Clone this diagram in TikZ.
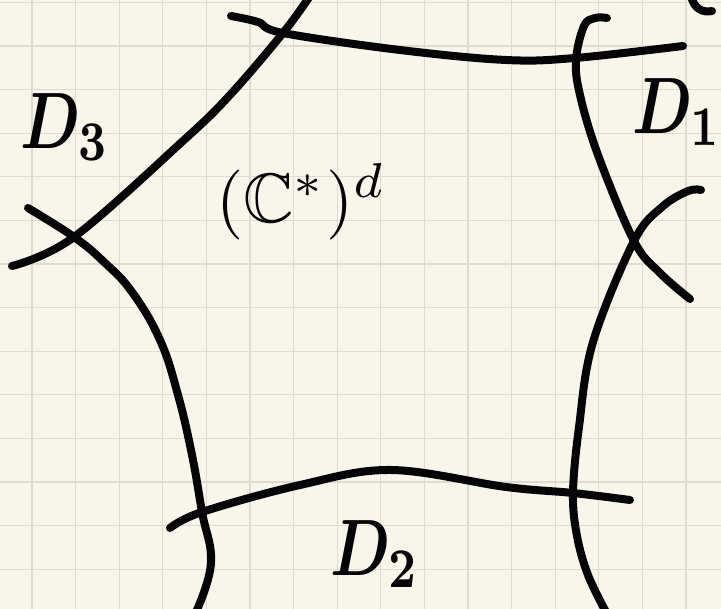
\documentclass[tikz,border=0pt]{standalone}
\usepackage{amssymb}
\usepackage{graphicx}
\usetikzlibrary{positioning,calc,backgrounds}
\definecolor{PaperBg}{RGB}{248,246,235}
\definecolor{PaperGrid}{RGB}{222,220,208}
\definecolor{InkBlack}{RGB}{5,5,5}
\tikzset{
  ink line/.style={draw=InkBlack, line width=8pt, line cap=round, line join=round},
  ink label/.style={text=InkBlack, inner sep=0pt, anchor=west}
}
\newcommand{\inkD}[1]{\scalebox{6.2}[8]{\boldmath$D_{#1}$}}

\begin{document}
\begin{tikzpicture}[x=1pt,y=-1pt]
% paper and grid
\fill[PaperBg] (0,0) rectangle (721,609);
\useasboundingbox (0,0) rectangle (721,609);
\foreach \gx in {0,...,15} \draw[PaperGrid, line width=1.2pt] (32+43.6*\gx,0) -- (32+43.6*\gx,609);
\foreach \gy in {0,...,13} \draw[PaperGrid, line width=1.2pt] (0,2.4+43.6*\gy) -- (721,2.4+43.6*\gy);
% crossings
\coordinate (x31) at (283,33);
\coordinate (x32) at (74,237);
\coordinate (x21) at (202,512);
\coordinate (x22) at (573,493);
\coordinate (x11) at (634,241);
\coordinate (x12) at (575,58);
% the six curves
\draw[ink line] plot[smooth, tension=0.6] coordinates {(231,16) (258,22) (x31) (400,50) (506,60) (x12) (683,46)};
\draw[ink line] plot[smooth, tension=0.6] coordinates {(310,-4) (x31) (230,95) (184,140) (x32) (12,266)};
\draw[ink line] plot[smooth, tension=0.7] coordinates {(28,208) (x32) (104,262) (132,292) (160,340) (178,395) (192,455) (x21) (211,563) (196,612)};
\draw[ink line] plot[smooth, tension=0.6] coordinates {(170,528) (x21) (300,485) (391,470) (506,487) (x22) (630,500)};
\draw[ink line] plot[smooth, tension=0.6] coordinates {(701,190) (688,191) (662,207) (x11) (593,342) (579,427) (x22) (577,536) (588,575) (606,612)};
\draw[ink line] plot[smooth, tension=0.6] coordinates {(607,18) (595,18) (584,26) (576,60) (580,95) (598,155) (x11) (660,273) (690,299)};
\draw[ink line] (691,-4) .. controls (694,9) and (703,13) .. (712,11);
% labels
\node[ink label] (d3) at (20,127) {\inkD{3}};
\node[ink label] (d2) at (330,554) {\inkD{2}};
\node[ink label] (d1) at (632,112) {\inkD{1}};
\node[ink label] (torus) at (216,202) {\scalebox{7}{$(\mathbb{C}^*)^d$}};
\end{tikzpicture}
\end{document}
